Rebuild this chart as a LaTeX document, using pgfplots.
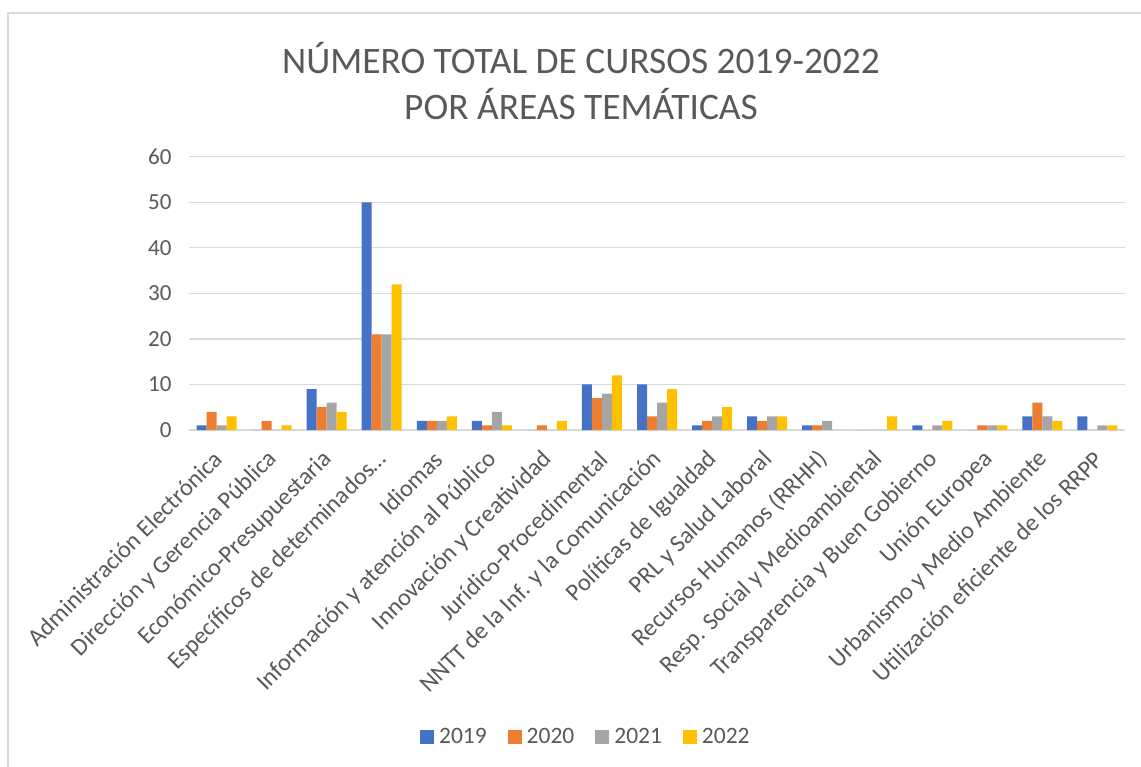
\documentclass[border=0pt]{standalone}
\usepackage{pgfplots}
\pgfplotsset{compat=1.18}
\usepackage{pgfplotstable}
\usepackage{fontspec}
\setmainfont{Carlito}
\definecolor{c19}{HTML}{4472C4}
\definecolor{c20}{HTML}{ED7D31}
\definecolor{c21}{HTML}{A5A5A5}
\definecolor{c22}{HTML}{FFC000}
\definecolor{txt}{HTML}{595959}
\definecolor{gridc}{HTML}{D9D9D9}
\pgfplotstableread{
cat a b c d
0 1 4 1 3
1 0 2 0 1
2 9 5 6 4
3 50 21 21 32
4 2 2 2 3
5 2 1 4 1
6 0 1 0 2
7 10 7 8 12
8 10 3 6 9
9 1 2 3 5
10 3 2 3 3
11 1 1 2 0
12 0 0 0 3
13 1 0 1 2
14 0 1 1 1
15 3 6 3 2
16 3 0 1 1
}\data
\begin{document}
\begin{tikzpicture}
\path[use as bounding box] (0,0) rectangle (1141bp,-767bp);
\draw[gridc, line width=1.2bp] (8bp,-13bp) rectangle (1180bp,-800bp);
\node[text=txt, font=\fontsize{37.4bp}{40bp}\selectfont] at (581bp,-58bp) {NÚMERO TOTAL DE CURSOS 2019-2022};
\node[text=txt, font=\fontsize{37.4bp}{40bp}\selectfont] at (581bp,-104bp) {POR ÁREAS TEMÁTICAS};
\begin{axis}[
  at={(189bp,-430bp)}, anchor=south west,
  scale only axis, width=936bp, height=273.3bp,
  ybar=0pt, bar width=10bp,
  xmin=-0.5, xmax=16.5, ymin=0, ymax=60,
  ytick={0,10,...,60},
  xtick={0,...,16},
  xticklabels={Administración Electrónica, Dirección y Gerencia Pública, Económico-Presupuestaria, Específicos de determinados…, Idiomas, Información y atención al Público, Innovación y Creatividad, Jurídico-Procedimental, NNTT de la Inf. y la Comunicación, Políticas de Igualdad, PRL y Salud Laboral, Recursos Humanos (RRHH), Resp. Social y Medioambiental, Transparencia y Buen Gobierno, Unión Europea, Urbanismo y Medio Ambiente, Utilización eficiente de los RRPP},
  /pgf/number format/assume math mode=true,
  tick label style={text=txt, font=\fontsize{23bp}{27bp}\selectfont},
  xticklabel style={yshift=-24bp, xshift=3bp, rotate=45, anchor=east, inner sep=2bp, font=\fontsize{24.3bp}{27bp}\selectfont},
  yticklabel style={xshift=-14bp},
  major tick length=0pt,
  xtick style={draw=none}, ytick style={draw=none},
  xmajorgrids=false, ymajorgrids=true,
  major grid style={draw=gridc, line width=1.3bp},
  axis x line*=bottom, axis y line*=left,
  x axis line style={-, draw=gridc, line width=1.5bp},
  y axis line style={draw=none},
  legend columns=4,
  legend style={at={(0.424,-1.123)}, anchor=center, draw=none, fill=none,
    font=\fontsize{23.5bp}{27bp}\selectfont, text=txt,
    /tikz/every odd column/.append style={column sep=3bp},
    /tikz/every even column/.append style={column sep=19bp}},
  legend image code/.code={\fill[#1,draw=none] (0bp,-7bp) rectangle (14bp,7bp);},
]
\addplot[fill=c19, draw=none] table[x=cat,y=a] {\data};
\addplot[fill=c20, draw=none] table[x=cat,y=b] {\data};
\addplot[fill=c21, draw=none] table[x=cat,y=c] {\data};
\addplot[fill=c22, draw=none] table[x=cat,y=d] {\data};
\legend{2019,2020,2021,2022}
\end{axis}
\end{tikzpicture}
\end{document}
